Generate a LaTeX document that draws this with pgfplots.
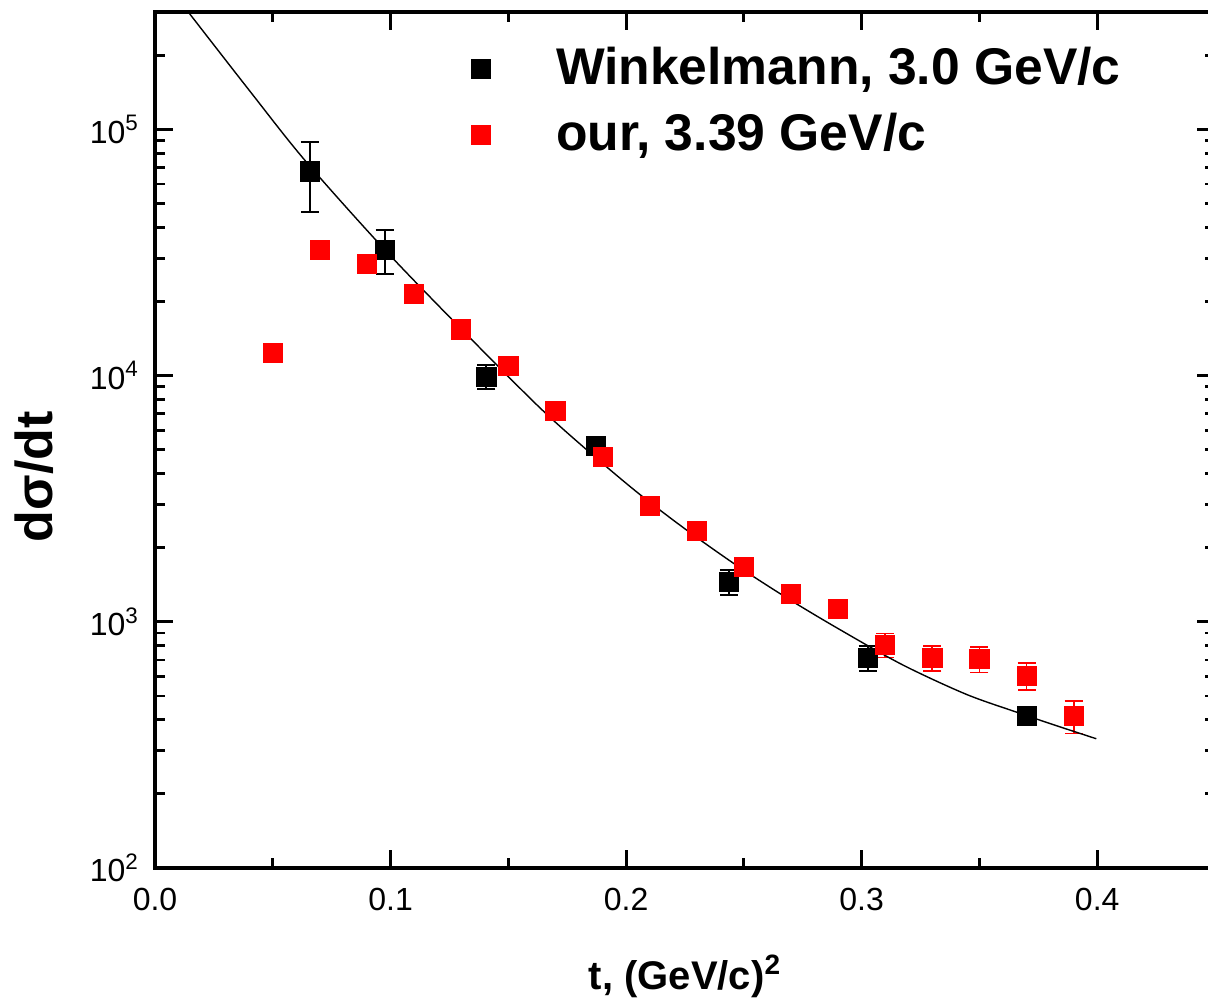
\documentclass[border=0pt]{standalone}
\usepackage{fontspec}
\setmainfont{Liberation Sans}
\usepackage{pgfplots}
\pgfplotsset{compat=1.18}

% legend: one square, with room before the text
\pgfplotsset{sqlegend/.style={legend image code/.code={%
  \draw[##1] plot coordinates {(0.3cm,0.22em)};
  \path[draw=none, fill=none] (0cm,-0.1cm) rectangle (1.55cm,0.1cm);}}}

\begin{document}
\begin{tikzpicture}
\begin{axis}[
  name=ax,
  scale only axis,
  width=530pt, height=428pt,
  xmin=0, xmax=0.45,
  ymode=log, ymin=100, ymax=3.0e5,
  xtick={0,0.1,0.2,0.3,0.4},
  minor xtick={0.05,0.15,0.25,0.35,0.45},
  ytick={1e2,1e3,1e4,1e5},
  yticklabels={10\textsuperscript{2},10\textsuperscript{3},10\textsuperscript{4},10\textsuperscript{5}},
  minor ytick={200,300,400,500,600,700,800,900,
               2000,3000,4000,5000,6000,7000,8000,9000,
               20000,30000,40000,50000,60000,70000,80000,90000,
               200000,300000},
  tick align=inside,
  major tick length=9pt, minor tick length=5pt,
  tick style={line width=1.4pt, black},
  axis line style={line width=1.6pt},
  tick label style={font=\fontsize{16}{19}\selectfont},
  xticklabel style={/pgf/number format/fixed,
    /pgf/number format/fixed zerofill,
    /pgf/number format/precision=1,
    /pgf/number format/assume math mode=true,
    yshift=-6.5pt},
  yticklabel style={xshift=-4.5pt},
  xlabel={t, (GeV/c)\textsuperscript{2}},
  xlabel style={font=\fontsize{20}{24}\selectfont\bfseries,
    at={(axis description cs:0.5,-0.1425)}, anchor=base},
  ylabel={dσ/dt},
  ylabel style={font=\fontsize{26}{30}\selectfont\bfseries,
    at={(axis description cs:-0.114,0.457)}, anchor=center},
  legend style={at={(axis description cs:0.291,0.967)}, anchor=north west,
    draw=none, fill=none, inner sep=0pt,
    font=\fontsize{25.8}{30}\selectfont\bfseries,
    nodes={inner sep=2pt, text height=20pt, text depth=9pt}},
  legend cell align=left,
]

\addplot[only marks, mark=square*, mark size=4.8pt, black, sqlegend,
  error bars/.cd, y dir=both, y explicit,
  error bar style={line width=1pt, black},
  error mark options={rotate=90, line width=1pt, mark size=4.5pt, black}]
  coordinates {
  (0.0657,67500) +- (0,21500)
  (0.0975,32500) +- (0,6600)
  (0.1407,9910)  +- (0,1100)
  (0.1873,5170)  +- (0,250)
  (0.2436,1455)  +- (0,165)
  (0.3025,714)   +- (0,80)
  (0.3703,415)   +- (0,25)
  };
\addlegendentry{Winkelmann, 3.0 GeV/c}

\addplot[only marks, mark=square*, mark size=4.8pt, red, sqlegend,
  error bars/.cd, y dir=both, y explicit,
  error bar style={line width=0.9pt, red},
  error mark options={rotate=90, line width=0.9pt, mark size=4.5pt, red}]
  coordinates {
  (0.05,12400) +- (0,0)
  (0.07,32500) +- (0,0)
  (0.09,28500) +- (0,0)
  (0.11,21500) +- (0,0)
  (0.13,15400) +- (0,0)
  (0.15,10990) +- (0,0)
  (0.17,7200)  +- (0,0)
  (0.19,4690)  +- (0,0)
  (0.21,2960)  +- (0,0)
  (0.23,2340)  +- (0,0)
  (0.25,1670)  +- (0,50)
  (0.27,1295)  +- (0,40)
  (0.29,1125)  +- (0,40)
  (0.31,806)   +- (0,90)
  (0.33,714)   +- (0,82)
  (0.35,707)   +- (0,85)
  (0.37,603)   +- (0,76)
  (0.39,415)   +- (0,63)
  };
\addlegendentry{our, 3.39 GeV/c}

% fit curve
\addplot[black, line width=0.7pt, smooth, forget plot] coordinates {
  (0.0120,319000) (0.0140,301000) (0.0403,143000) (0.0636,75000)
  (0.0975,32500) (0.1314,15000) (0.1631,7450) (0.1843,4900)
  (0.2055,3310) (0.2267,2320) (0.2479,1670) (0.2691,1236)
  (0.2903,935) (0.3172,670) (0.3441,509) (0.3653,431)
  (0.3825,379) (0.3996,335)
};
\end{axis}
\pgfresetboundingbox
\path[use as bounding box] ([shift={(-77.5pt,-66pt)}]ax.south west)
  rectangle ([shift={(526.5pt,6pt)}]ax.north west);
\end{tikzpicture}
\end{document}
